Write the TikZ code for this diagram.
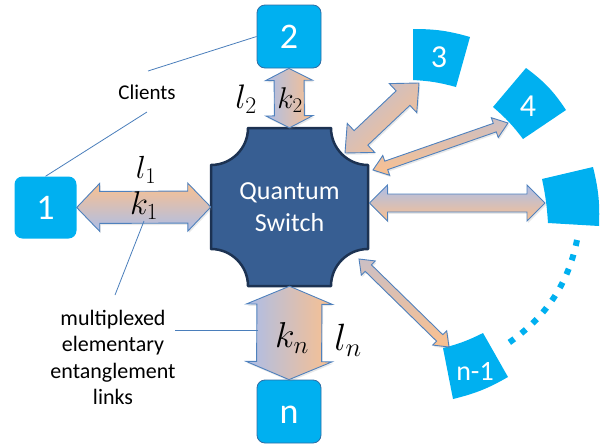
\documentclass[tikz,border=0pt]{standalone}
\usepackage{fix-cm}
\usepackage[no-math]{fontspec}
\setmainfont{Carlito}
\usetikzlibrary{calc,shadows}
\definecolor{cyanbox}{RGB}{0,176,240}
\definecolor{boxline}{RGB}{46,109,164}
\definecolor{swfill}{RGB}{55,94,146}
\definecolor{swline}{RGB}{28,50,82}
\definecolor{arrline}{RGB}{79,129,189}
\definecolor{lav}{RGB}{172,190,232}
\definecolor{org}{RGB}{250,192,143}
\definecolor{callout}{RGB}{74,126,187}
\newcommand\dblarr[6]{% #1 options, #2 A, #3 B, #4 half shaft, #5 half head, #6 head length
\path[#1] (#2)
 -- ($(#2)!#6!(#3)!#5!90:(#3)$)
 -- ($(#2)!#6!(#3)!#4!90:(#3)$)
 -- ($(#3)!#6!(#2)!#4!-90:(#2)$)
 -- ($(#3)!#6!(#2)!#5!-90:(#2)$)
 -- (#3)
 -- ($(#3)!#6!(#2)!#5!90:(#2)$)
 -- ($(#3)!#6!(#2)!#4!90:(#2)$)
 -- ($(#2)!#6!(#3)!#4!-90:(#3)$)
 -- ($(#2)!#6!(#3)!#5!-90:(#3)$)
 -- cycle;}
\tikzset{
 client/.style={fill=cyanbox, rounded corners=8pt, minimum width=62pt, minimum height=62pt,
   text=white, font=\fontsize{36}{40}\selectfont, inner sep=0pt, text height=23pt, text depth=0pt},
 clientb/.style={client, draw=boxline, line width=0.8pt, minimum width=64pt, minimum height=63pt},
 sector/.style={fill=cyanbox},
 seclabel/.style={text=white, inner sep=0pt},
 link/.style={draw=arrline, line width=0.9pt, line join=miter,
   drop shadow={opacity=0.18, shadow xshift=1.2pt, shadow yshift=-1.8pt}},
 callline/.style={draw=callout, line width=0.8pt},
 mathlbl/.style={inner sep=0pt},
}
\begin{document}
\begin{tikzpicture}[x=1pt,y=-1pt]
\useasboundingbox (0,0) rectangle (603,445);

% quantum switch
\path[fill=swfill, draw=swline, line width=2.5pt, line join=round]
 (248,128) -- (331,128) .. controls (331,148.4) and (347.6,165) .. (368,165)
 -- (368,249) .. controls (347.6,249) and (331,265.6) .. (331,286)
 -- (248,286) .. controls (248,265.6) and (231.4,249) .. (211,249)
 -- (211,165) .. controls (231.4,165) and (248,148.4) .. (248,128) -- cycle;
\node[minimum width=157pt, minimum height=158pt, inner sep=0pt, text=white, align=center,
  font=\fontsize{26}{32}\selectfont] (sw) at (289.5,207) {Quantum\\Switch};

% clients
\node[client] (c1) at (45.5,207.5) {1};
\node[clientb] (c2) at (289,36.5) {2};
\node[clientb] (cn) at (289,411.5) {n};

% sector shaped clients
\path[sector] (413,29) to[bend left=8] (470,37) -- (456,87) to[bend right=6] (413,80) -- cycle;
\node[seclabel, font=\fontsize{32}{36}\selectfont] (s3) at (439,57) {3};
\path[sector] (526,68) to[bend left=10] (566,110) -- (523,139) to[bend right=6] (493,107) -- cycle;
\node[seclabel, font=\fontsize{32}{36}\selectfont] (s4) at (528,106) {4};
\path[sector] (542,179) -- (593,167) to[bend left=8] (599,226) -- (548,223) to[bend right=4] (542,179) -- cycle;
\path[sector] (443,348) to[bend right=6] (483,333) -- (508,377) to[bend left=8] (453,399) -- cycle;
\node[seclabel, font=\fontsize{28}{32}\selectfont] (sn1) at (475,371) {n-1};

% dotted arc
\draw[cyanbox, line width=6pt, dash pattern=on 6pt off 9pt] (577,240) .. controls (568,285) and (545,318) .. (507,344);

% link end points
\coordinate (r1) at (369.5,203);
\coordinate (r2) at (545,203);
\coordinate (t31) at (345,153);
\coordinate (t32) at (419,83);
\coordinate (t41) at (373,170);
\coordinate (t42) at (508,123);
\coordinate (t51) at (359,259);
\coordinate (t52) at (449,347);

% links
\dblarr{link, top color=org, bottom color=lav}{c1.east}{sw.west}{16pt}{24pt}{23pt}
\dblarr{link, left color=lav, right color=org}{c2.south}{sw.north}{15pt}{23.5pt}{12pt}
\dblarr{link, left color=lav, right color=org}{sw.south}{cn.north}{32.5pt}{43pt}{18pt}
\dblarr{link, top color=lav, bottom color=org}{r1}{r2}{9pt}{18pt}{18pt}
\dblarr{link, top color=lav!75!org, bottom color=org, shading angle=45}{t31}{t32}{10pt}{20pt}{22pt}
\dblarr{link, top color=lav!60!org, bottom color=org}{t41}{t42}{4.5pt}{10.5pt}{14pt}
\dblarr{link, top color=lav!60!org, bottom color=org}{t51}{t52}{4.5pt}{10pt}{13pt}

% link labels
\node[mathlbl, font=\fontsize{32}{33}\selectfont] (l1) at (146,170) {$l_1$};
\node[mathlbl, font=\fontsize{33}{34}\selectfont] (k1) at (144,206) {$k_1$};
\node[mathlbl, font=\fontsize{34}{35}\selectfont] (l2) at (246,99) {$l_2$};
\node[mathlbl, font=\fontsize{30}{31}\selectfont] (k2) at (290,100) {$k_2$};
\node[mathlbl, font=\fontsize{36}{37}\selectfont] (kn) at (292,338) {$k_n$};
\node[mathlbl, font=\fontsize{38}{39}\selectfont] (ln) at (348,340) {$l_n$};

% callouts
\node[font=\fontsize{21}{25}\selectfont, inner sep=0pt] (clients) at (147,92) {Clients};
\coordinate (cl1) at (148,71);
\coordinate (cl2) at (147,112);
\draw[callline] (cl1) -- (c2.west);
\draw[callline] (cl2) -- (c1.north);

\node[font=\fontsize{22}{26.3}\selectfont, align=center, inner sep=0pt] (mux) at (113,357.5)
  {multiplexed\\elementary\\entanglement\\links};
\coordinate (k1foot) at (144,221);
\coordinate (muxtop) at (115,295);
\coordinate (muxr) at (175,330);
\coordinate (knl) at (257.5,330);
\draw[callline] (k1foot) -- (muxtop);
\draw[callline] (muxr) -- (knl);
\end{tikzpicture}
\end{document}
